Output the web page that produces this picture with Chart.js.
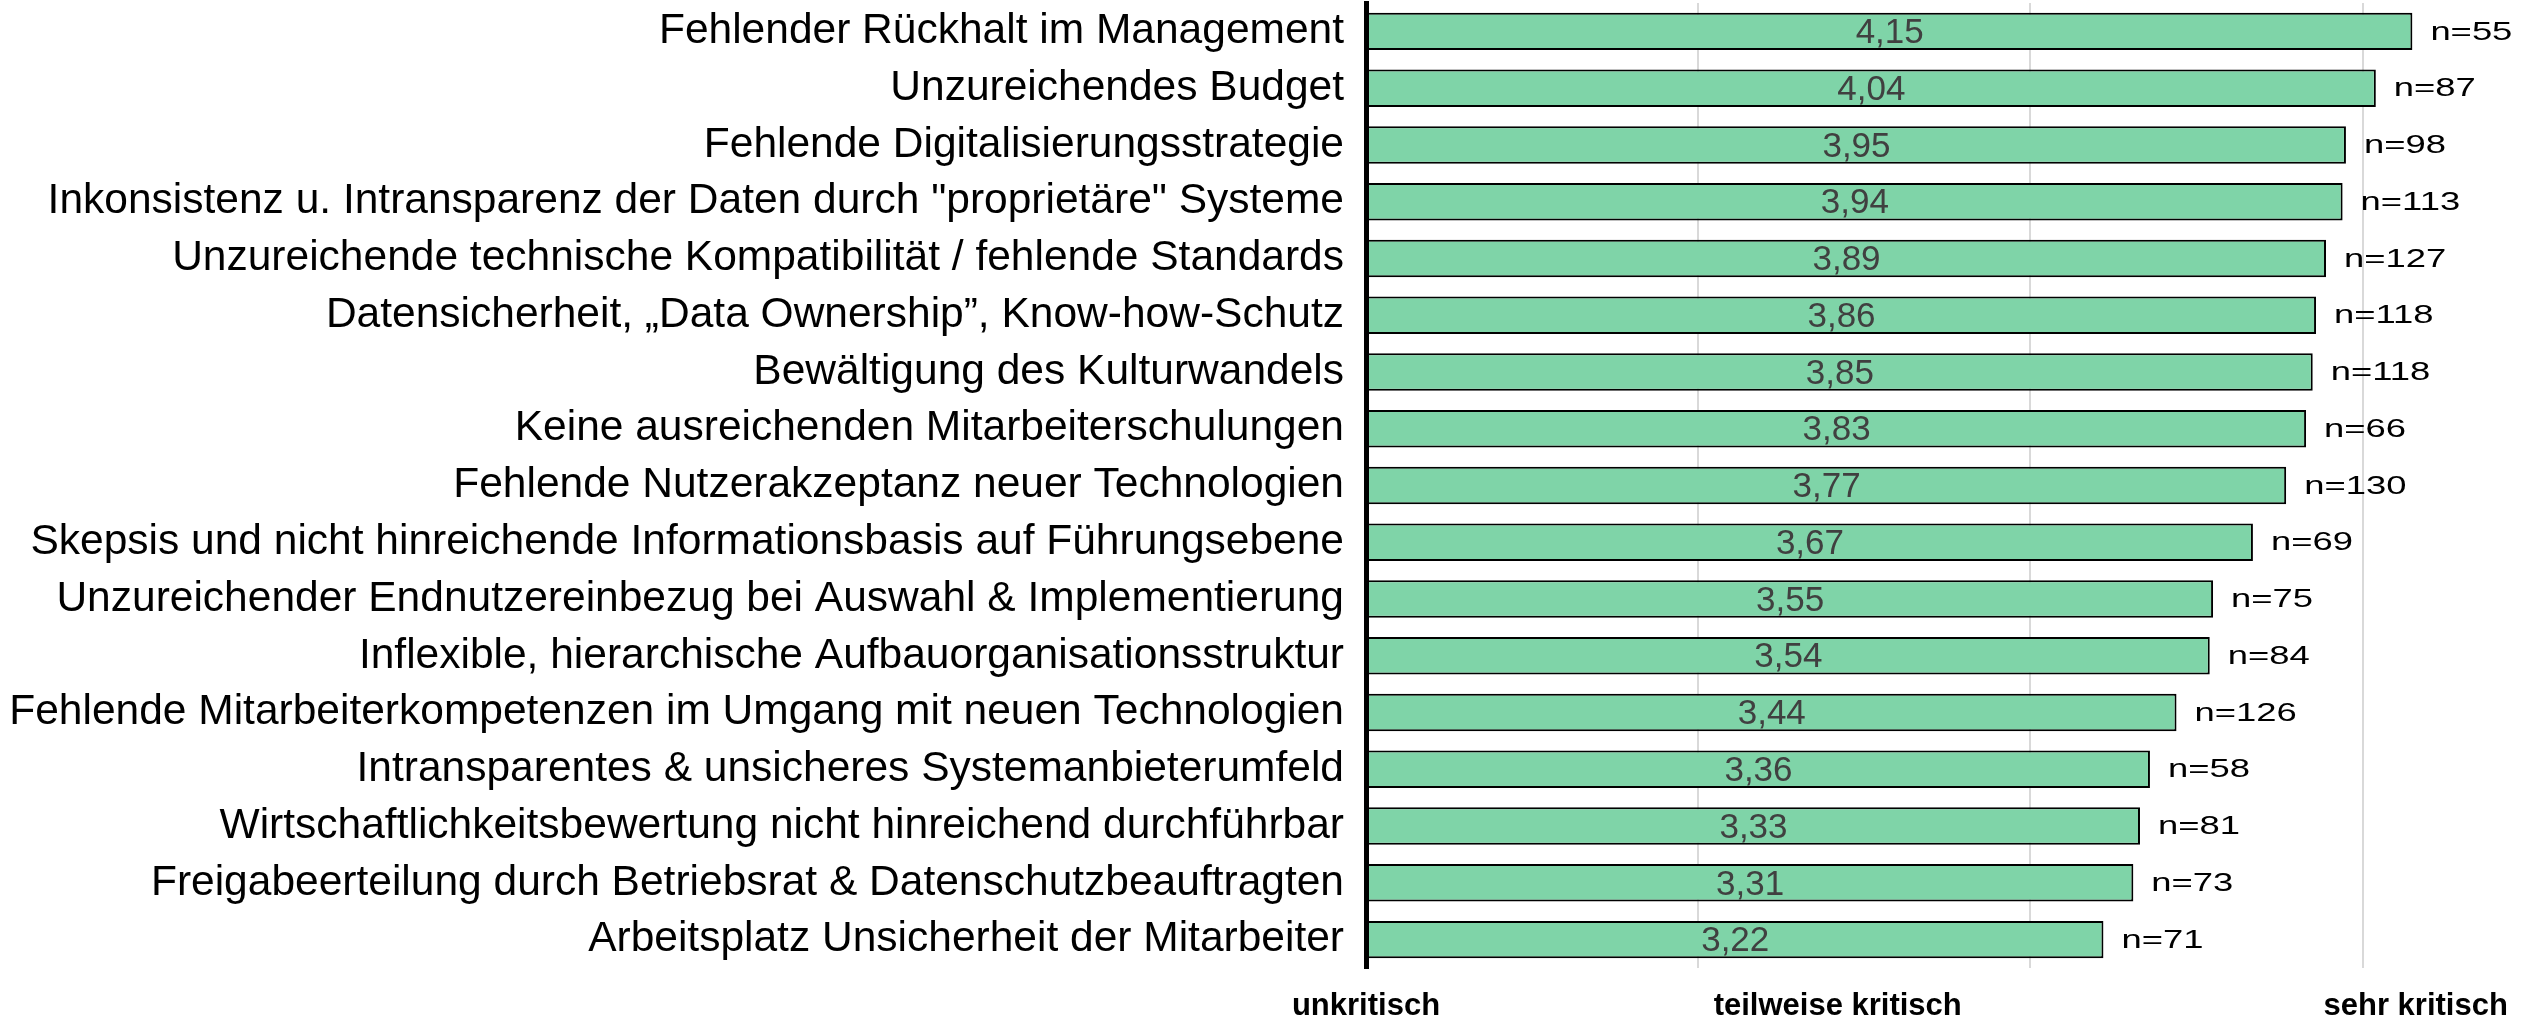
<!DOCTYPE html>
<html>
<head>
<meta charset="utf-8">
<script src="https://cdn.jsdelivr.net/npm/chart.js@4"></script>
<style>
    html, body { margin: 0; padding: 0; background: #fff; }
    #wrap { width: 2522px; height: 1023px; }
</style>
</head>
<body>
<div id="wrap"><canvas id="myChart" width="2522" height="1023"></canvas></div>
<script>
const categories = [
    'Fehlender Rückhalt im Management',
    'Unzureichendes Budget',
    'Fehlende Digitalisierungsstrategie',
    'Inkonsistenz u. Intransparenz der Daten durch "proprietäre" Systeme',
    'Unzureichende technische Kompatibilität / fehlende Standards',
    'Datensicherheit, „Data Ownership”, Know-how-Schutz',
    'Bewältigung des Kulturwandels',
    'Keine ausreichenden Mitarbeiterschulungen',
    'Fehlende Nutzerakzeptanz neuer Technologien',
    'Skepsis und nicht hinreichende Informationsbasis auf Führungsebene',
    'Unzureichender Endnutzereinbezug bei Auswahl & Implementierung',
    'Inflexible, hierarchische Aufbauorganisationsstruktur',
    'Fehlende Mitarbeiterkompetenzen im Umgang mit neuen Technologien',
    'Intransparentes & unsicheres Systemanbieterumfeld',
    'Wirtschaftlichkeitsbewertung nicht hinreichend durchführbar',
    'Freigabeerteilung durch Betriebsrat & Datenschutzbeauftragten',
    'Arbeitsplatz Unsicherheit der Mitarbeiter'
];
const scores = [4.15, 4.04, 3.95, 3.94, 3.89, 3.86, 3.85, 3.83, 3.77, 3.67, 3.55, 3.54, 3.44, 3.36, 3.33, 3.31, 3.22];
const counts = [55, 87, 98, 113, 127, 118, 118, 66, 130, 69, 75, 84, 126, 58, 81, 73, 71];

const gridTicks = [1, 2, 3, 4];
const scaleLabels = ['unkritisch', 'teilweise kritisch', 'sehr kritisch'];
const scaleLabelValues = [1, 2.42, 4.16];

const FONT = '"Liberation Sans", Arial, sans-serif';

// values inside the bars and n= behind them
const barLabels = {
    id: 'barLabels',
    afterDatasetsDraw(chart) {
        const ctx = chart.ctx;
        const meta = chart.getDatasetMeta(0);
        meta.data.forEach((bar, i) => {
            ctx.save();
            ctx.textBaseline = 'middle';
            ctx.textAlign = 'center';
            ctx.fillStyle = '#404040';
            ctx.font = '35px ' + FONT;
            ctx.fillText(scores[i].toFixed(2).replace('.', ','), (bar.base + bar.x) / 2, bar.y + 2);

            // n labels are a bit stretched in the original
            ctx.translate(bar.x + 18, bar.y + 1);
            ctx.scale(1.4, 1);
            ctx.textAlign = 'left';
            ctx.fillStyle = '#000';
            ctx.font = '26px ' + FONT;
            ctx.fillText('n=' + counts[i], 0, 0);
            ctx.restore();
        });
    }
};

const ctx = document.getElementById('myChart').getContext('2d');
const myChart = new Chart(ctx, {
    type: 'bar',
    data: {
        labels: categories,
        datasets: [{
            data: scores,
            base: 1,
            backgroundColor: '#7fd4a8',
            borderColor: '#000',
            borderWidth: 2,
            borderSkipped: false,
            categoryPercentage: 0.8,
            barPercentage: 0.825
        }]
    },
    options: {
        indexAxis: 'y',
        responsive: false,
        animation: false,
        layout: { padding: { top: 3, right: 0, left: 0, bottom: 0 } },
        plugins: {
            legend: { display: false },
            tooltip: { enabled: false }
        },
        scales: {
            x: {
                min: 1,
                max: 4.48,
                afterBuildTicks: (scale) => { scale.ticks = gridTicks.map(v => ({ value: v })); },
                afterFit: (scale) => { scale.height = 0; scale.paddingLeft = 0; scale.paddingRight = 0; },
                ticks: { display: false },
                grid: { color: '#d9d9d9', lineWidth: 2, drawTicks: false },
                border: { display: false }
            },
            x2: {
                type: 'linear',
                position: 'bottom',
                min: 1,
                max: 4.48,
                afterBuildTicks: (scale) => { scale.ticks = scaleLabelValues.map(v => ({ value: v })); },
                afterFit: (scale) => { scale.height = 55; scale.paddingLeft = 0; scale.paddingRight = 0; },
                ticks: {
                    autoSkip: false,
                    maxRotation: 0,
                    padding: 20,
                    color: '#000',
                    font: { family: FONT, size: 31, weight: 'bold' },
                    callback: (value, index) => scaleLabels[index]
                },
                grid: { display: false, drawTicks: false },
                border: { display: false }
            },
            y: {
                afterFit: (scale) => {
                    scale.width = 1366;
                    scale.paddingTop = 0;
                    scale.paddingBottom = 0;
                },
                ticks: {
                    autoSkip: false,
                    padding: 22,
                    color: '#000',
                    font: { family: FONT, size: 42.5, lineHeight: 1 }
                },
                grid: { display: false, drawTicks: false },
                border: { color: '#000', width: 5 }
            }
        }
    },
    plugins: [barLabels]
});
</script>
</body>
</html>
